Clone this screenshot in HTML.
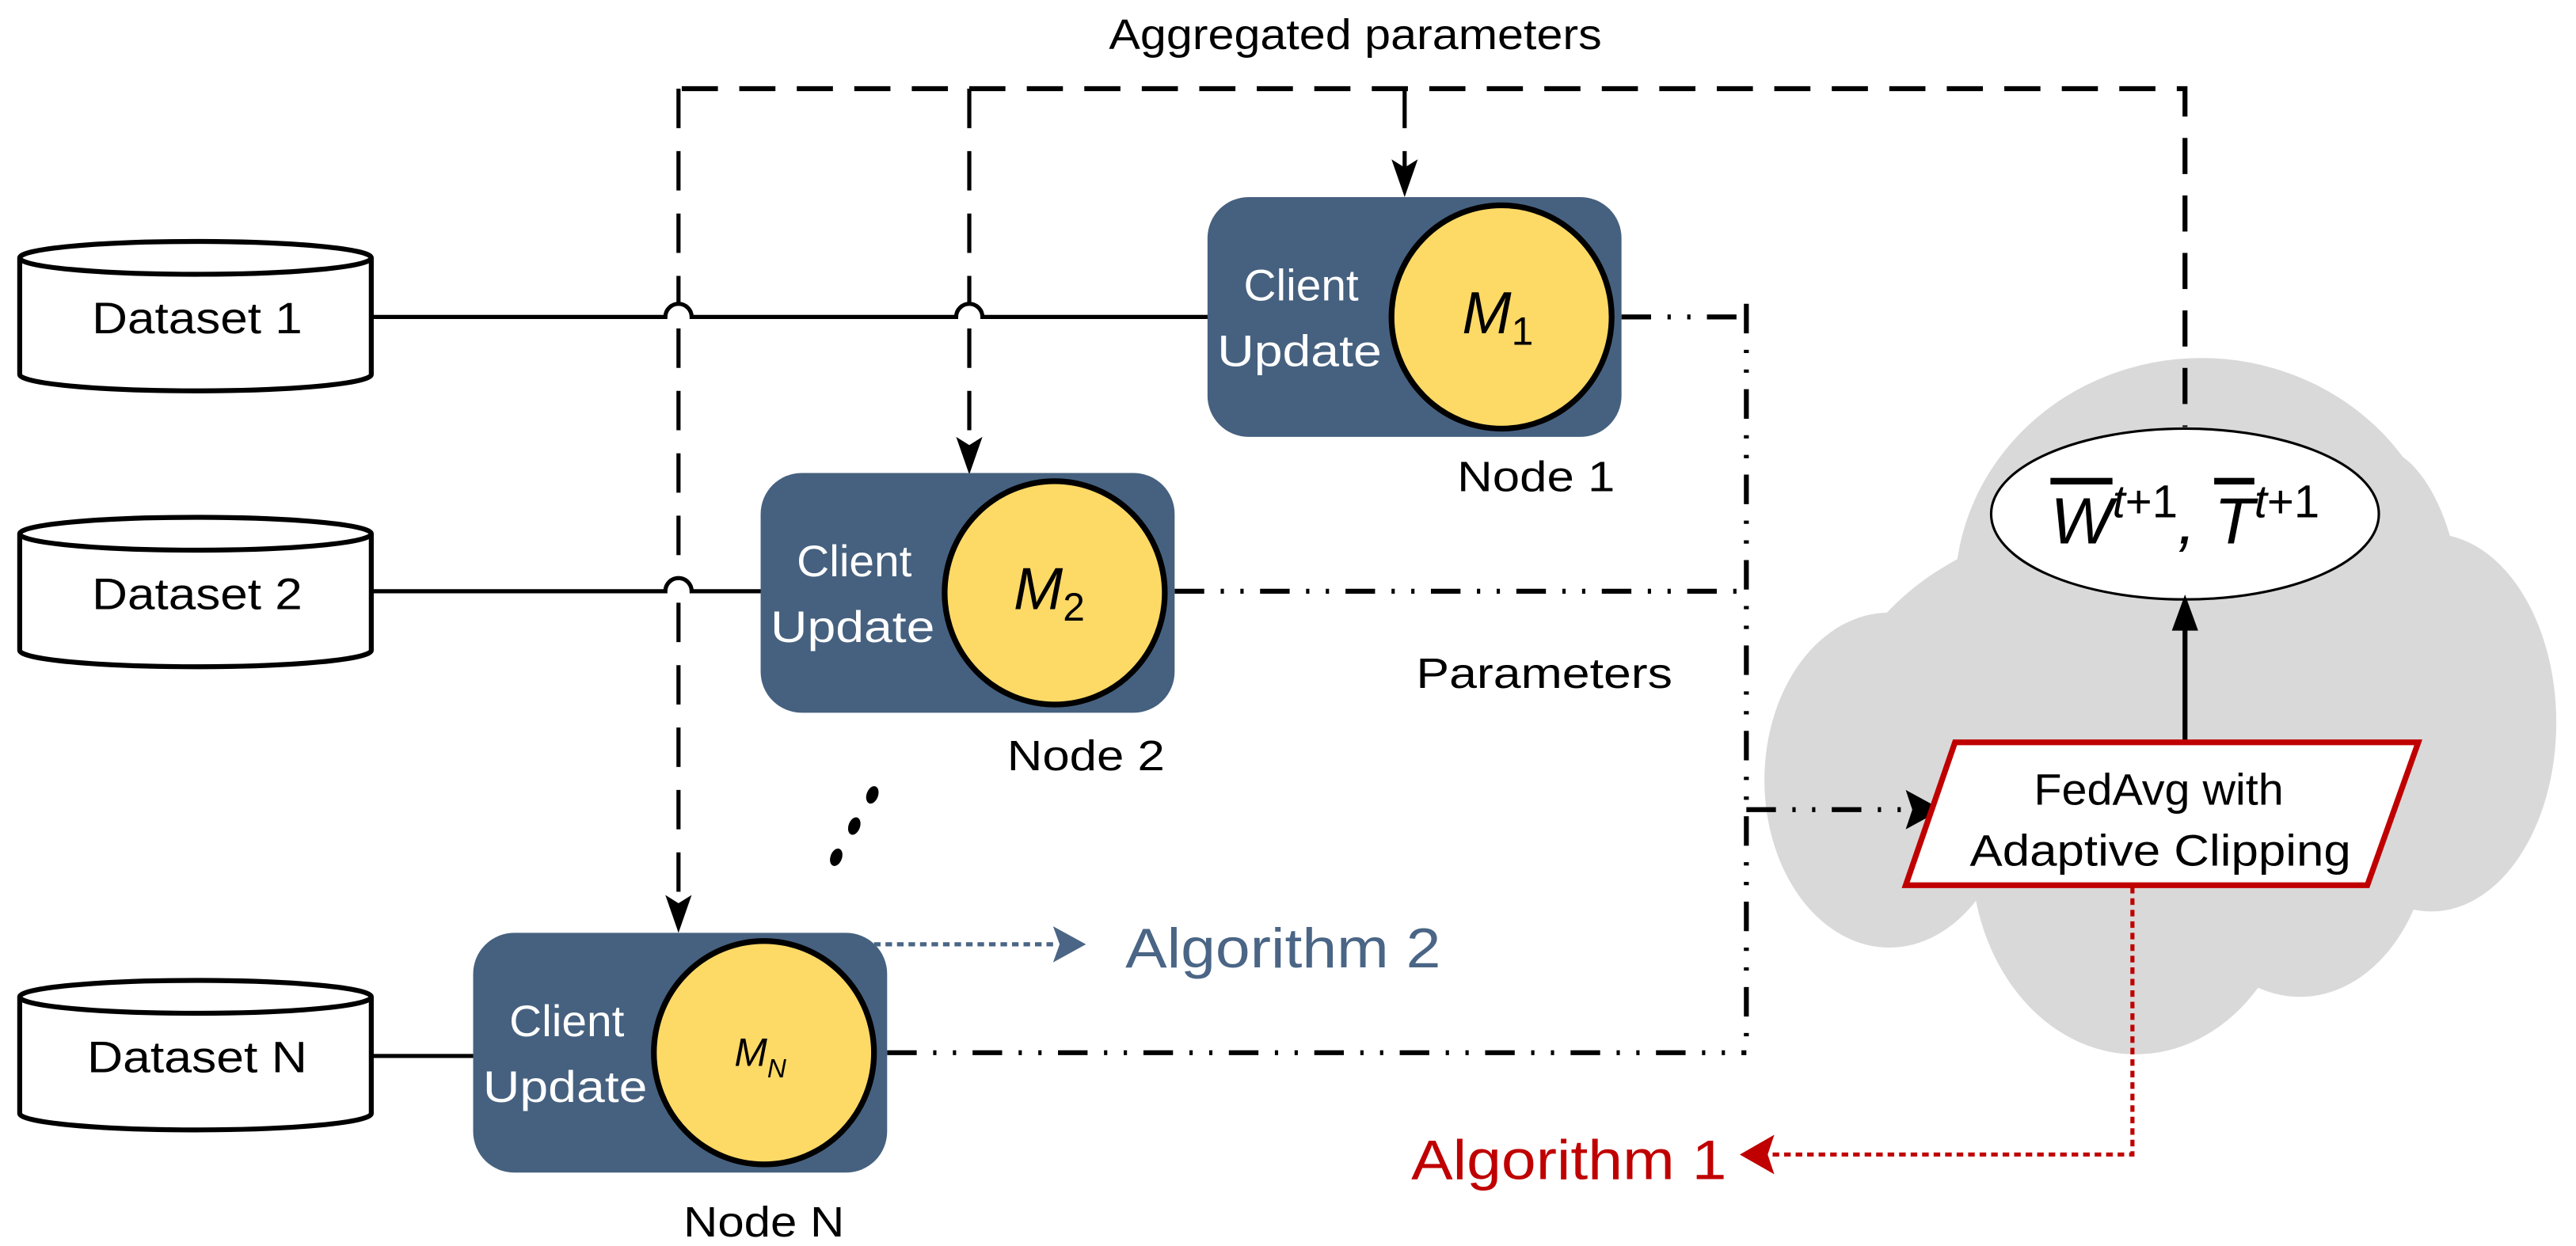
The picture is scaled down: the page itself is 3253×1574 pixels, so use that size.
<!DOCTYPE html>
<html><head><meta charset="utf-8"><style>
html,body{margin:0;padding:0;background:#fff;}
svg{display:block;}
text{font-family:"Liberation Sans",sans-serif;}
</style></head><body>
<svg width="3253" height="1574" viewBox="0 0 1568 758.7" preserveAspectRatio="none" xmlns="http://www.w3.org/2000/svg">
<!-- cloud -->
<g fill="#d9d9d9">
<ellipse cx="1340" cy="360" rx="150" ry="142"/>
<ellipse cx="1445" cy="390" rx="55" ry="118"/>
<ellipse cx="1480" cy="440" rx="76" ry="115"/>
<ellipse cx="1150" cy="475" rx="76" ry="102"/>
<ellipse cx="1300" cy="520" rx="100" ry="122"/>
<ellipse cx="1400" cy="500" rx="80" ry="107"/>
<ellipse cx="1320" cy="440" rx="200" ry="130"/>
</g>
<!-- title -->
<text x="825" y="30" font-size="26" text-anchor="middle" textLength="300" lengthAdjust="spacingAndGlyphs">Aggregated parameters</text>
<!-- top dashed -->
<g stroke="#000" stroke-width="3" fill="none" stroke-dasharray="22,13">
<path d="M415,54 L1330,54 L1330,260"/>
</g>
<g stroke="#000" stroke-width="2.5" fill="none" stroke-dasharray="24,14">
<path d="M413,54 L413,186 M413,200 L413,353 M413,367 L413,562"/>
<path d="M590,54 L590,186 M590,200 L590,283"/>
<path d="M855,54 L855,114"/>
</g>
<g fill="#000">
<path d="M405,545 L413,568 L421,545 L413,550 Z"/>
<path d="M582,266 L590,289 L598,266 L590,271 Z"/>
<path d="M847,97 L855,120 L863,97 L855,102 Z"/>
</g>
<!-- datasets -->
<g stroke="#000" stroke-width="3" fill="#fff">
<path d="M12,157 L12,228 A107,10 0 0 0 226,228 L226,157"/>
<ellipse cx="119" cy="157" rx="107" ry="10"/>
<path d="M12,325 L12,396 A107,10 0 0 0 226,396 L226,325"/>
<ellipse cx="119" cy="325" rx="107" ry="10"/>
<path d="M12,607 L12,678 A107,10 0 0 0 226,678 L226,607"/>
<ellipse cx="119" cy="607" rx="107" ry="10"/>
</g>
<g font-size="27" text-anchor="middle">
<text x="120" y="203" textLength="128" lengthAdjust="spacingAndGlyphs">Dataset 1</text>
<text x="120" y="371" textLength="128" lengthAdjust="spacingAndGlyphs">Dataset 2</text>
<text x="120" y="653" textLength="134" lengthAdjust="spacingAndGlyphs">Dataset N</text>
</g>
<!-- solid lines with hops -->
<g stroke="#000" stroke-width="2.5" fill="none">
<path d="M226,193 L405,193 A8,8 0 0 1 421,193 L582,193 A8,8 0 0 1 598,193 L736,193"/>
<path d="M226,360 L405,360 A8,8 0 0 1 421,360 L464,360"/>
<path d="M226,643 L289,643"/>
</g>
<!-- dash-dot lines -->
<g stroke="#000" stroke-width="3" fill="none" stroke-dasharray="18,10,2,10,2,10">
<path d="M987,193 L1063,193"/>
<path d="M715,360 L1063,360"/>
<path d="M540,641 L1063,641"/>
<path d="M1063,185 L1063,641"/>
<path d="M1063,493 L1168,493"/>
</g>
<path d="M1160,481 L1182,493 L1160,505 L1164,493 Z" fill="#000"/>
<!-- nodes -->
<g fill="#46617f">
<rect x="735" y="120" width="252" height="146" rx="25"/>
<rect x="463" y="288" width="252" height="146" rx="25"/>
<rect x="288" y="568" width="252" height="146" rx="25"/>
</g>
<g fill="#fdd966" stroke="#000" stroke-width="3.5">
<ellipse cx="914" cy="193" rx="67" ry="68"/>
<ellipse cx="642" cy="361" rx="67" ry="68"/>
<ellipse cx="465" cy="641" rx="67" ry="68"/>
</g>
<g fill="#fff" font-size="27" text-anchor="middle">
<text x="792" y="183" textLength="70" lengthAdjust="spacingAndGlyphs">Client</text><text x="791" y="223" textLength="100" lengthAdjust="spacingAndGlyphs">Update</text>
<text x="520" y="351" textLength="70" lengthAdjust="spacingAndGlyphs">Client</text><text x="519" y="391" textLength="100" lengthAdjust="spacingAndGlyphs">Update</text>
<text x="345" y="631" textLength="70" lengthAdjust="spacingAndGlyphs">Client</text><text x="344" y="671" textLength="100" lengthAdjust="spacingAndGlyphs">Update</text>
</g>
<g font-family="Liberation Serif" font-style="italic">
<text x="890" y="203" font-size="36">M<tspan font-size="24" dy="7" font-style="normal">1</tspan></text>
<text x="617" y="371" font-size="36">M<tspan font-size="24" dy="7" font-style="normal">2</tspan></text>
<text x="447" y="649" font-size="24">M<tspan font-size="16" dy="7">N</tspan></text>
</g>
<g font-size="26" text-anchor="middle">
<text x="935" y="299" textLength="96" lengthAdjust="spacingAndGlyphs">Node 1</text>
<text x="661" y="469" textLength="96" lengthAdjust="spacingAndGlyphs">Node 2</text>
<text x="465" y="753" textLength="98" lengthAdjust="spacingAndGlyphs">Node N</text>
<text x="940" y="419" textLength="156" lengthAdjust="spacingAndGlyphs">Parameters</text>
</g>
<!-- vertical dots -->
<g fill="#000">
<ellipse cx="531" cy="484" rx="3.5" ry="5.5" transform="rotate(20 531 484)"/>
<ellipse cx="520" cy="503" rx="3.5" ry="5.5" transform="rotate(20 520 503)"/>
<ellipse cx="509" cy="522" rx="3.5" ry="5.5" transform="rotate(20 509 522)"/>
</g>
<!-- algorithm 2 -->
<path d="M532,575 L642,575" stroke="#4a6585" stroke-width="2.5" stroke-dasharray="4,3"/>
<path d="M641,564 L661,575 L641,586 L645,575 Z" fill="#4a6585"/>
<text x="685" y="589" font-size="34" fill="#4a6585" textLength="192" lengthAdjust="spacingAndGlyphs">Algorithm 2</text>
<!-- W ellipse -->
<ellipse cx="1330" cy="313" rx="118" ry="52" fill="#fff" stroke="#000" stroke-width="1.5"/>
<text x="1330" y="331" font-size="40" font-family="Liberation Serif" font-style="italic" text-anchor="middle"><tspan text-decoration="overline">W</tspan><tspan font-size="28" dy="-16">t</tspan><tspan font-size="28" font-style="normal">+1</tspan><tspan dy="16">, </tspan><tspan text-decoration="overline">T</tspan><tspan font-size="28" dy="-16">t</tspan><tspan font-size="28" font-style="normal">+1</tspan></text>
<path d="M1330,452 L1330,375" stroke="#000" stroke-width="3"/>
<path d="M1322,384 L1330,362 L1338,384 Z" fill="#000"/>
<!-- parallelogram -->
<polygon points="1190,452 1472,452 1441,539 1160,539" fill="#fff" stroke="#c00000" stroke-width="3.5"/>
<g font-size="27" text-anchor="middle">
<text x="1314" y="490" textLength="152" lengthAdjust="spacingAndGlyphs">FedAvg with</text>
<text x="1315" y="527" textLength="232" lengthAdjust="spacingAndGlyphs">Adaptive Clipping</text>
</g>
<!-- algorithm 1 -->
<path d="M1298,540 L1298,703 L1078,703" stroke="#c00000" stroke-width="2.5" fill="none" stroke-dasharray="4,3"/>
<path d="M1080,691 L1059,703 L1080,715 L1076,703 Z" fill="#c00000"/>
<text x="1051" y="718" font-size="34" fill="#c00000" text-anchor="end" textLength="192" lengthAdjust="spacingAndGlyphs">Algorithm 1</text>
</svg>
</body></html>
